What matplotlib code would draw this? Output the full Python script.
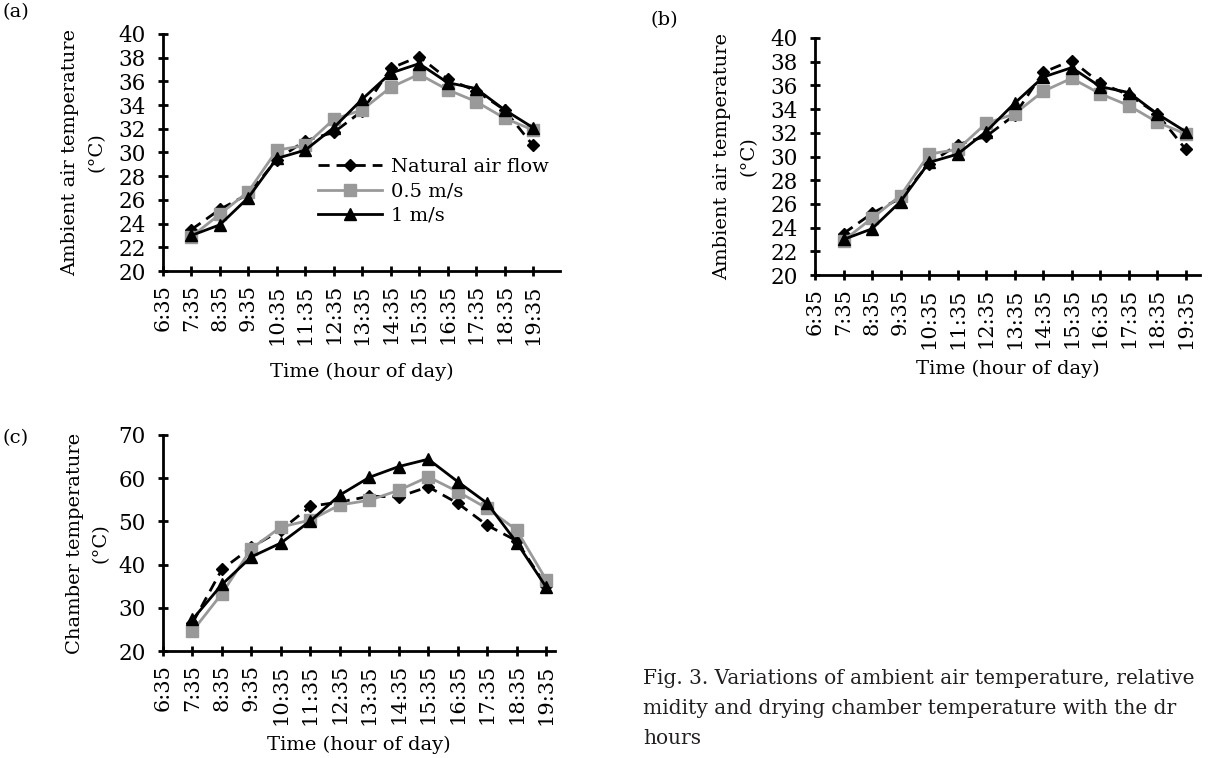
import matplotlib
matplotlib.use("Agg")
import matplotlib.pyplot as plt

plt.rcParams["font.family"] = "DejaVu Serif"
plt.rcParams["font.size"] = 14

# tick labels on the category axis (6:35 sits at the y-axis, data from 7:35)
hours = ["6:35", "7:35", "8:35", "9:35", "10:35", "11:35", "12:35", "13:35",
         "14:35", "15:35", "16:35", "17:35", "18:35", "19:35"]
series = ["Natural air flow", "0.5 m/s", "1 m/s"]

# ambient air temperature (°C), panels (a) and (b)
amb_natural = [23.5, 25.2, 26.5, 29.4, 31.0, 31.7, 33.5, 37.1, 38.1, 36.2, 35.2, 33.6, 30.6]
amb_05 = [22.9, 24.8, 26.7, 30.2, 30.6, 32.8, 33.6, 35.5, 36.6, 35.3, 34.3, 32.9, 31.9]
amb_1 = [23.0, 23.9, 26.2, 29.5, 30.2, 32.1, 34.5, 36.7, 37.5, 35.9, 35.4, 33.6, 32.1]

# drying chamber temperature (°C), panel (c)
ch_natural = [26.5, 38.9, 44.0, 48.0, 53.5, 54.5, 55.8, 55.7, 58.0, 54.2, 49.1, 45.5, 35.0]
ch_05 = [24.6, 33.3, 43.7, 48.7, 50.3, 53.8, 54.9, 57.2, 60.3, 56.9, 53.0, 48.0, 36.5]
ch_1 = [27.3, 35.4, 41.8, 45.0, 50.1, 56.1, 60.2, 62.7, 64.4, 59.2, 54.2, 45.1, 34.8]

styles = [dict(color="black", ls=(0, (4, 2.5)), marker="D", ms=6),
          dict(color="#999999", ls="-", marker="s", ms=8),
          dict(color="black", ls="-", marker="^", ms=8)]

W, H = 1208, 758
fig = plt.figure(figsize=(W / 100, H / 100), dpi=100)


def px(l, t, r, b):
    return [l / W, 1 - b / H, (r - l) / W, (b - t) / H]


def panel(rect, data, ylim, ystep, ylabel, xmax, lpad, xpad):
    ax = fig.add_axes(px(*rect))
    x = list(range(1, len(data[0]) + 1))
    for y, st, lab in zip(data, styles, series):
        ax.plot(x, y, lw=2, label=lab, **st)
    ax.set_xlim(0, xmax)
    ax.set_ylim(*ylim)
    ax.set_yticks(range(ylim[0], ylim[1] + 1, ystep))
    ax.set_xticks(range(len(hours)))
    ax.set_xticklabels(hours, rotation=90)
    for s in ["top", "right"]:
        ax.spines[s].set_visible(False)
    for s in ["left", "bottom"]:
        ax.spines[s].set_linewidth(2)
    ax.tick_params(direction="inout", length=7, width=2)
    ax.tick_params(axis="y", pad=9, labelsize=15.5)
    ax.tick_params(axis="x", pad=6, labelsize=15)
    ax.set_ylabel(ylabel, linespacing=1.6, labelpad=lpad)
    ax.set_xlabel("Time (hour of day)", labelpad=xpad)
    return ax


ax_a = panel((163, 34, 560, 271), [amb_natural, amb_05, amb_1], (20, 40), 2,
             "Ambient air temperature\n(°C)", 13.95, 9, 13)
ax_a.legend(loc="upper left", bbox_to_anchor=(318 / W, 1 - 158 / H),
            bbox_transform=fig.transFigure, frameon=False, borderpad=0,
            handlelength=3.3, handletextpad=0.45, labelspacing=0.33,
            borderaxespad=0, fontsize=14)
panel((815, 38, 1200, 275), [amb_natural, amb_05, amb_1], (20, 40), 2,
      "Ambient air temperature\n(°C)", 13.5, 9, 8)
panel((163, 435, 555, 651), [ch_natural, ch_05, ch_1], (20, 70), 10,
      "Chamber temperature\n(°C)", 13.3, 6, 8)

fig.text(2 / W, 1 - 12 / H, "(a)", va="center", fontsize=14)
fig.text(650 / W, 1 - 20 / H, "(b)", va="center", fontsize=14)
fig.text(2 / W, 1 - 438 / H, "(c)", va="center", fontsize=14)

caption = ["Fig. 3. Variations of ambient air temperature, relative",
           "midity and drying chamber temperature with the dr",
           "hours"]
for i, line in enumerate(caption):
    fig.text(643 / W, 1 - (678 + 30 * i) / H, line, va="center", fontsize=14.5,
             color="#231f20")

fig.savefig("out.png", dpi=100)
